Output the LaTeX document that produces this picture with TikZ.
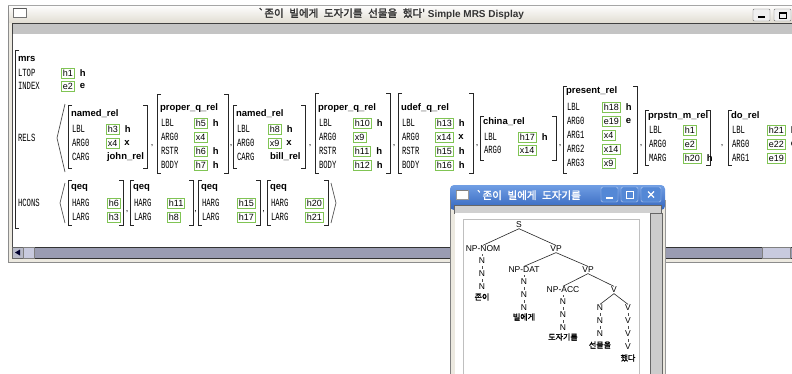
\documentclass[tikz,border=0pt]{standalone}
\usepackage{fontspec}
\setmainfont{Liberation Sans}
\newfontfamily\featfont{Liberation Mono}[FakeStretch=0.66]
\newfontfamily\krfont{Noto Sans CJK KR}[AutoFakeBold=1.5]
\newfontfamily\krtitlefont{Noto Sans CJK KR}[AutoFakeBold=1.8, WordSpace=2.4]
\usepackage{tikz}
\usetikzlibrary{calc}
\usetikzlibrary{positioning}

\definecolor{valgreen}{RGB}{128,196,84}
\definecolor{framegray}{RGB}{236,233,224}
\definecolor{titlebeige}{RGB}{226,222,212}
\definecolor{stripgray}{RGB}{196,196,196}
\definecolor{trackgray}{RGB}{154,156,178}
\definecolor{thumbgray}{RGB}{200,202,222}
\definecolor{titleblue}{RGB}{52,102,190}
\definecolor{titlebluelight}{RGB}{112,158,228}
\definecolor{btnblue}{RGB}{84,136,214}

\begin{document}
\begin{tikzpicture}[x=1pt, y=-1pt]

\tikzset{%
reltitle/.style={font=\bfseries\fontsize{9.5}{9.5}\selectfont, anchor=west, inner sep=0, outer sep=0},
featlabel/.style={font=\featfont\fontsize{11}{11}\selectfont, anchor=west, inner sep=0, outer sep=0},
valbox/.style={draw=valgreen, line width=0.9pt, fill=white, font=\fontsize{9}{9}\selectfont, anchor=west, inner xsep=1.5pt, inner ysep=1pt, minimum height=10pt},
typeletter/.style={font=\bfseries\fontsize{9.5}{9.5}\selectfont, inner sep=0, outer sep=0},
avmbracket/.style={line width=0.9pt, black!85},
avmangle/.style={line width=0.7pt, black!70},
avmcomma/.style={font=\fontsize{9}{9}\selectfont, inner sep=0},
wintitle/.style={font=\bfseries\fontsize{10}{10}\selectfont, text=black!80, inner sep=0},
treelabel/.style={font=\fontsize{8.5}{8.5}\selectfont, inner sep=0.5pt},
treeword/.style={font=\krfont\bfseries\fontsize{8}{8}\selectfont, inner sep=0.5pt},
treeedge/.style={line width=0.6pt, black!85},
treedot/.style={line width=0.6pt, black!70, shorten <=1.5pt, shorten >=1.5pt}%
}

% arguments: left x, right x, top y, bottom y
\newcommand{\avmbrackets}[4]{%
\draw [avmbracket] (#1+4, #3) -- (#1, #3) -- (#1, #4) -- (#1+4, #4) ;
\draw [avmbracket] (#2-4, #3) -- (#2, #3) -- (#2, #4) -- (#2-4, #4) ;
}

% arguments: name, label x, value x, y, label, value, type
\newcommand{\avmrow}[7]{%
\node [featlabel] (#1) at (#2, #4) {#5} ;
\node [valbox] (#1val) at (#3, #4) {#6} ;
\node [typeletter, right=5pt of #1val] (#1type) {#7} ;
}

% arguments: name, label x, value x, y, label, value
\newcommand{\avmrowbare}[6]{%
\node [featlabel] (#1) at (#2, #4) {#5} ;
\node [valbox] (#1val) at (#3, #4) {#6} ;
}

\useasboundingbox (0,0) rectangle (792,373) ;
\fill [white] (0,0) rectangle (792,373) ;

% main window

\fill [framegray] (8,5) rectangle (800,262) ;
\shade [top color=white, bottom color=titlebeige] (8,5) rectangle (800,22) ;
\draw [black!45] (8,5) -- (8,262) -- (800,262) ;
\draw [black!35] (8,5) -- (800,5) ;
\filldraw [fill=stripgray, draw=black!75] (12,23) rectangle (800,34) ;
\fill [white] (12,34) rectangle (800,247) ;
\draw [black!70] (12,34) -- (12,247) ;

\draw [black!55, fill=white] (13,8) rectangle (26,17) ;
\draw [black!65, line width=1.4pt] (13,8.7) -- (26,8.7) ;

\node [wintitle] (maintitle) at (391,13.5) {{\krtitlefont\fontsize{10.5}{10.5}\selectfont `존이 빌에게 도자기를 선물을 했다'}\ Simple MRS Display} ;

\filldraw [fill=black!6, draw=black!55, rounded corners=1pt] (753,9) rectangle (770,21) ;
\draw [line width=1.4pt] (758,17) -- (765,17) ;
\filldraw [fill=black!6, draw=black!55, rounded corners=1pt] (774,9) rectangle (791,21) ;
\draw [line width=0.7pt] (779,12.5) rectangle (786,18) ;
\draw [line width=1.2pt] (779,13) -- (786,13) ;

% horizontal scroll bar

\filldraw [fill=trackgray, draw=black!80] (12,247) rectangle (800,258) ;
\filldraw [fill=trackgray!70!white, draw=black!60] (12,247) rectangle (23,258) ;
\fill [black!55!blue!40!black] (15,252.5) -- (20,249.5) -- (20,255.5) -- cycle ;
\filldraw [fill=thumbgray, draw=black!50] (23,247) rectangle (34,258) ;
\filldraw [fill=thumbgray, draw=black!50] (762,247) rectangle (790,258) ;

% mrs structure

\draw [avmbracket] (19,50) -- (15,50) -- (15,228) -- (19,228) ;
\node [reltitle] (mrs) at (18,59) {mrs} ;
\node [featlabel] (ltop) at (18,73) {LTOP} ;
\node [valbox] (ltopval) at (61,73) {h1} ;
\node [typeletter, right=5pt of ltopval] (ltoptype) {h} ;
\node [featlabel] (index) at (18,86) {INDEX} ;
\node [valbox] (indexval) at (61,86) {e2} ;
\node [typeletter, right=5pt of indexval] (indextype) {e} ;
\node [featlabel] (rels) at (18,138) {RELS} ;
\node [featlabel] (hcons) at (18,203) {HCONS} ;

\draw [avmangle] (65,104) -- (57,138) -- (65,172) ;

% named_rel
\avmbrackets{68}{147}{105}{168}
\node [reltitle] (nameda) at (71,114) {named\_rel} ;
\avmrow{namedalbl}{72}{106}{129}{LBL}{h3}{h}
\avmrow{namedaarg}{72}{106}{143}{ARG0}{x4}{x}
\node [featlabel] (namedacarg) at (72,157) {CARG} ;
\node [typeletter, anchor=west] (namedacargval) at (107,157) {john\_rel} ;
\node [avmcomma] (commaa) at (152,146) {,} ;

% proper_q_rel
\avmbrackets{157}{228}{94}{173}
\node [reltitle] (propera) at (160,108) {proper\_q\_rel} ;
\avmrow{properalbl}{161}{194}{123}{LBL}{h5}{h}
\avmrowbare{properaarg}{161}{194}{137}{ARG0}{x4}
\avmrow{properarstr}{161}{194}{151}{RSTR}{h6}{h}
\avmrow{properabody}{161}{194}{165}{BODY}{h7}{h}
\node [avmcomma] (commab) at (231,146) {,} ;

% named_rel
\avmbrackets{233}{305}{105}{168}
\node [reltitle] (namedb) at (236,114) {named\_rel} ;
\avmrow{namedblbl}{237}{268}{129}{LBL}{h8}{h}
\avmrow{namedbarg}{237}{268}{143}{ARG0}{x9}{x}
\node [featlabel] (namedbcarg) at (237,157) {CARG} ;
\node [typeletter, anchor=west] (namedbcargval) at (270,157) {bill\_rel} ;
\node [avmcomma] (commac) at (310,146) {,} ;

% proper_q_rel
\avmbrackets{315}{390}{93}{173}
\node [reltitle] (properb) at (318,108) {proper\_q\_rel} ;
\avmrow{properblbl}{319}{353}{123}{LBL}{h10}{h}
\avmrowbare{properbarg}{319}{353}{137}{ARG0}{x9}
\avmrow{properbrstr}{319}{353}{151}{RSTR}{h11}{h}
\avmrow{properbbody}{319}{353}{165}{BODY}{h12}{h}
\node [avmcomma] (commad) at (394,146) {,} ;

% udef_q_rel
\avmbrackets{398}{473}{93}{173}
\node [reltitle] (udef) at (401,108) {udef\_q\_rel} ;
\avmrow{udeflbl}{402}{435}{123}{LBL}{h13}{h}
\avmrow{udefarg}{402}{435}{137}{ARG0}{x14}{x}
\avmrow{udefrstr}{402}{435}{151}{RSTR}{h15}{h}
\avmrow{udefbody}{402}{435}{165}{BODY}{h16}{h}
\node [avmcomma] (commae) at (477,146) {,} ;

% china_rel
\avmbrackets{480}{556}{116}{160}
\node [reltitle] (china) at (483,122) {china\_rel} ;
\avmrow{chinalbl}{484}{518}{137}{LBL}{h17}{h}
\avmrowbare{chinaarg}{484}{518}{150}{ARG0}{x14}
\node [avmcomma] (commaf) at (560,146) {,} ;

% present_rel
\avmbrackets{563}{637}{86}{173}
\node [reltitle] (present) at (566,91) {present\_rel} ;
\avmrow{presentlbl}{567}{602}{107}{LBL}{h18}{h}
\avmrow{presentarga}{567}{602}{121}{ARG0}{e19}{e}
\avmrowbare{presentargb}{567}{602}{135}{ARG1}{x4}
\avmrowbare{presentargc}{567}{602}{149}{ARG2}{x14}
\avmrowbare{presentargd}{567}{602}{163}{ARG3}{x9}
\node [avmcomma] (commag) at (641,146) {,} ;

% prpstn_m_rel
\avmbrackets{645}{710}{110}{165}
\node [reltitle] (prpstn) at (648,116) {prpstn\_m\_rel} ;
\avmrowbare{prpstnlbl}{649}{683}{130}{LBL}{h1}
\avmrowbare{prpstnarg}{649}{683}{144}{ARG0}{e2}
\avmrow{prpstnmarg}{649}{683}{158}{MARG}{h20}{h}
\node [avmcomma] (commah) at (722,146) {,} ;

% do_rel
\draw [avmbracket] (732,110) -- (728,110) -- (728,165) -- (732,165) ;
\node [reltitle] (dorel) at (731,116) {do\_rel} ;
\avmrow{dolbl}{732}{767}{130}{LBL}{h21}{h}
\avmrow{doarga}{732}{767}{144}{ARG0}{e22}{e}
\avmrowbare{doargb}{732}{767}{158}{ARG1}{e19}

% hcons list

\draw [avmangle] (65,183) -- (60,203) -- (65,223) ;
\draw [avmangle] (331,183) -- (336,203) -- (331,223) ;

\avmbrackets{68}{123}{180}{225}
\node [reltitle] (qeqa) at (71,188) {qeq} ;
\avmrowbare{qeqaharg}{72}{107}{203}{HARG}{h6}
\avmrowbare{qeqalarg}{72}{107}{217}{LARG}{h3}
\node [avmcomma] (commai) at (127,212) {,} ;

\avmbrackets{130}{193}{180}{225}
\node [reltitle] (qeqb) at (133,188) {qeq} ;
\avmrowbare{qeqbharg}{134}{167}{203}{HARG}{h11}
\avmrowbare{qeqblarg}{134}{167}{217}{LARG}{h8}
\node [avmcomma] (commaj) at (195.5,212) {,} ;

\avmbrackets{198}{260}{180}{225}
\node [reltitle] (qeqc) at (201,188) {qeq} ;
\avmrowbare{qeqcharg}{202}{237}{203}{HARG}{h15}
\avmrowbare{qeqclarg}{202}{237}{217}{LARG}{h17}
\node [avmcomma] (commak) at (263.5,212) {,} ;

\avmbrackets{267}{328}{180}{225}
\node [reltitle] (qeqd) at (270,188) {qeq} ;
\avmrowbare{qeqdharg}{271}{305}{203}{HARG}{h20}
\avmrowbare{qeqdlarg}{271}{305}{217}{LARG}{h21}

% tree window

\fill [framegray] (450,200) rectangle (665,380) ;
\shade [top color=titlebluelight, bottom color=titleblue, rounded corners=4pt] (450,185) rectangle (665,210) ;
\filldraw [fill=stripgray!80!white, draw=black!60] (454,205) rectangle (661,213) ;
\fill [white] (455,213) rectangle (650,380) ;
\draw [black!25] (463,219) rectangle (639,380) ;
\filldraw [fill=black!20, draw=black!60] (650,213) rectangle (662,380) ;
\draw [black!50] (450,200) -- (450,380) ;
\draw [black!40] (665,200) -- (665,380) ;

\draw [black!40, fill=white] (456,190) rectangle (468,199) ;
\draw [black!50, line width=1.2pt] (456,190.6) -- (468,190.6) ;
\node [wintitle, text=white, anchor=west] (treetitle) at (476,195) {\krtitlefont\fontsize{10.5}{10.5}\selectfont `존이 빌에게 도자기를} ;

\filldraw [fill=btnblue, draw=white!60!btnblue, rounded corners=1.5pt] (601,187) rectangle (618,202) ;
\draw [white, line width=1.4pt] (606,198) -- (613,198) ;
\filldraw [fill=btnblue, draw=white!60!btnblue, rounded corners=1.5pt] (621,187) rectangle (638,202) ;
\draw [white, line width=0.7pt] (626,191) rectangle (633,198) ;
\draw [white, line width=1.2pt] (626,191.5) -- (633,191.5) ;
\filldraw [fill=btnblue, draw=white!60!btnblue, rounded corners=1.5pt] (641,187) rectangle (661,202) ;
\draw [white, line width=1.3pt] (648,191.5) -- (654,197.5) (654,191.5) -- (648,197.5) ;

% draw tree nodes

\node [treelabel] (s) at (519,225) {S} ;
\node [treelabel] (npnom) at (483,249) {NP-NOM} ;
\node [treelabel] (vpa) at (556,249) {VP} ;
\node [treelabel] (nomna) at (482,261) {N} ;
\node [treelabel] (nomnb) at (482,274) {N} ;
\node [treelabel] (nomnc) at (482,287) {N} ;
\node [treeword] (john) at (482,297) {존이} ;
\node [treelabel] (npdat) at (524,270) {NP-DAT} ;
\node [treelabel] (vpb) at (588,270) {VP} ;
\node [treelabel] (datna) at (524,282) {N} ;
\node [treelabel] (datnb) at (524,295) {N} ;
\node [treelabel] (datnc) at (524,308) {N} ;
\node [treeword] (bill) at (524,317) {빌에게} ;
\node [treelabel] (npacc) at (563,290) {NP-ACC} ;
\node [treelabel] (vc) at (614,290) {V} ;
\node [treelabel] (accna) at (563,302) {N} ;
\node [treelabel] (accnb) at (563,315) {N} ;
\node [treelabel] (accnc) at (563,328) {N} ;
\node [treeword] (pottery) at (563,337) {도자기를} ;
\node [treelabel] (objna) at (600,308) {N} ;
\node [treelabel] (objnb) at (600,321) {N} ;
\node [treelabel] (objnc) at (600,334) {N} ;
\node [treeword] (gift) at (600,345) {선물을} ;
\node [treelabel] (verba) at (628,308) {V} ;
\node [treelabel] (verbb) at (628,321) {V} ;
\node [treelabel] (verbc) at (628,334) {V} ;
\node [treelabel] (verbd) at (628,347) {V} ;
\node [treeword] (did) at (628,358) {했다} ;

% draw tree branches

\foreach \a/\b in {s/npnom, s/vpa, vpa/npdat, vpa/vpb, vpb/npacc, vpb/vc, vc/objna, vc/verba}
	\draw [treeedge] (\a.south) -- (\b.north) ;

\foreach \a/\b in {npnom/nomna, nomna/nomnb, nomnb/nomnc, npdat/datna, datna/datnb, datnb/datnc, npacc/accna, accna/accnb, accnb/accnc, objna/objnb, objnb/objnc, verba/verbb, verbb/verbc, verbc/verbd}
	\draw [treedot] (\a) -- (\b) ;

\end{tikzpicture}
\end{document}
